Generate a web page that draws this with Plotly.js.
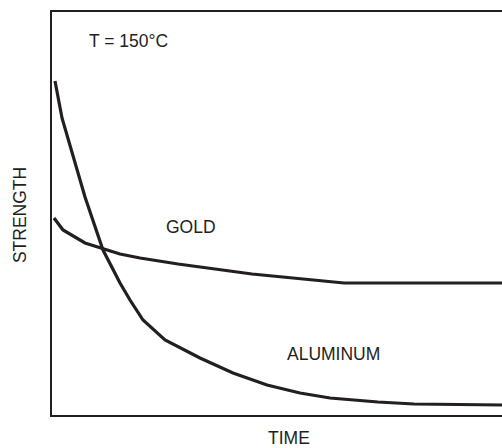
<!DOCTYPE html>
<html>
<head>
<meta charset="utf-8">
<script src="https://cdn.plot.ly/plotly-3.0.1.min.js"></script>
<style>html,body{margin:0;padding:0;background:#fff;}#chart{width:502px;height:448px;}</style>
</head>
<body>
<div id="chart"></div>
<script>
// Values (arbitrary units: time 0-450, strength 0-403)
const aluminumTime = [3, 10, 33, 51, 68, 78, 91, 113, 148, 181, 215, 248, 278, 326, 362, 450];
const aluminumStrength = [334, 297, 218, 165, 132, 115, 95, 75, 57, 42, 30, 22, 17, 13, 11, 10];
const goldTime = [2, 11, 33, 51, 68, 88, 126, 200, 249, 292, 450];
const goldStrength = [197, 185, 172, 166, 161, 157, 151, 141, 136, 132, 132];

const ink = '#231f20';
const font = {family: '"Liberation Sans", Arial, sans-serif', size: 17.5, color: ink};

const data = [
  {x: aluminumTime, y: aluminumStrength, mode: 'lines', name: 'ALUMINUM',
   line: {color: ink, width: 3.2}, hoverinfo: 'skip', cliponaxis: false},
  {x: goldTime, y: goldStrength, mode: 'lines', name: 'GOLD',
   line: {color: ink, width: 3.2}, hoverinfo: 'skip', cliponaxis: false}
];

const layout = {
  width: 502, height: 448,
  margin: {l: 52, r: 0, t: 12, b: 33},
  paper_bgcolor: '#fff', plot_bgcolor: '#fff',
  showlegend: false,
  font: font,
  xaxis: {range: [0, 450], showline: true, mirror: true, linecolor: ink, linewidth: 2,
          showgrid: false, zeroline: false, showticklabels: false, ticks: '', fixedrange: true},
  yaxis: {range: [0, 403], showline: true, mirror: false, linecolor: ink, linewidth: 2,
          showgrid: false, zeroline: false, showticklabels: false, ticks: '', fixedrange: true},
  annotations: [
    {text: 'T = 150°C', xref: 'paper', yref: 'paper', x: 0.169, y: 0.927, showarrow: false,
     xanchor: 'center', yanchor: 'middle', font: font},
    {text: 'GOLD', xref: 'x', yref: 'y', x: 138.5, y: 188, showarrow: false,
     xanchor: 'center', yanchor: 'middle', font: font},
    {text: 'ALUMINUM', xref: 'x', yref: 'y', x: 281.5, y: 61.5, showarrow: false,
     xanchor: 'center', yanchor: 'middle', font: font},
    {text: 'TIME', xref: 'paper', yref: 'paper', x: 0.527, y: -0.058, showarrow: false,
     xanchor: 'center', yanchor: 'middle', font: font},
    {text: 'STRENGTH', xref: 'paper', yref: 'paper', x: -0.0711, y: 0.496, showarrow: false,
     textangle: -90, xanchor: 'center', yanchor: 'middle', font: font}
  ]
};

Plotly.newPlot('chart', data, layout, {displayModeBar: false, staticPlot: true});
</script>
</body>
</html>
